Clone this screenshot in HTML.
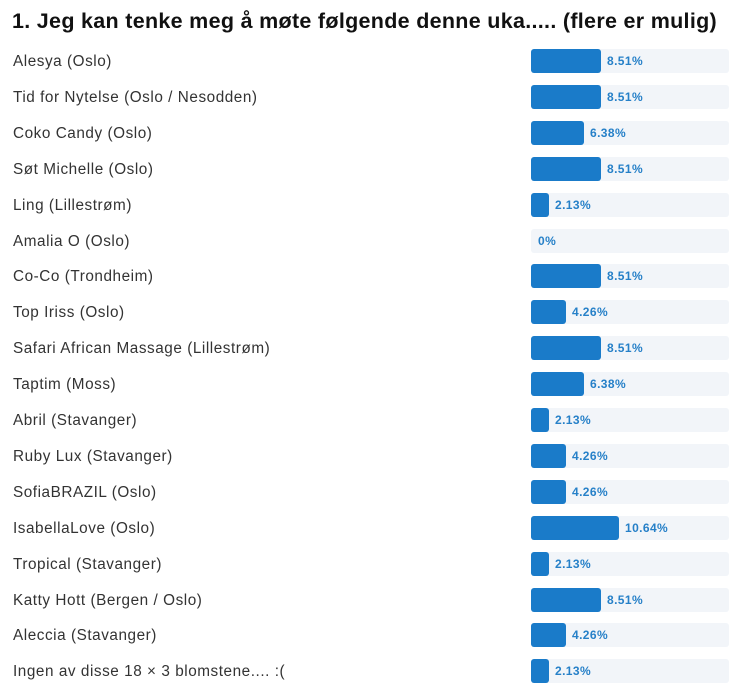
<!DOCTYPE html>
<html><head><meta charset="utf-8"><style>
body{margin:0;width:729px;height:699px;background:#fff;font-family:"Liberation Sans",sans-serif;overflow:hidden;position:relative}
h1{position:absolute;left:12px;top:9px;margin:0;font-size:21.5px;font-weight:bold;color:#111;white-space:nowrap;letter-spacing:0.3px}
.row{position:absolute;left:0;width:729px;height:24px}
.lab{position:absolute;left:13px;top:4px;font-size:15.3px;color:#333;white-space:nowrap;letter-spacing:0.55px}
.track{position:absolute;left:531px;top:0;width:198px;height:24px;background:#f2f5f9;border-radius:3px}
.bar{position:absolute;left:531px;top:0;height:24px;background:#1a7bc9;border-radius:3px}
.pct{position:absolute;top:5px;font-size:12px;font-weight:bold;color:#2680c8;letter-spacing:0.4px}
</style></head><body>
<h1>1. Jeg kan tenke meg å møte følgende denne uka..... (flere er mulig)</h1>
<div id="c"></div>
<script>
var d=[["Alesya (Oslo)",8.51],["Tid for Nytelse (Oslo / Nesodden)",8.51],["Coko Candy (Oslo)",6.38],["Søt Michelle (Oslo)",8.51],["Ling (Lillestrøm)",2.13],["Amalia O (Oslo)",0],["Co-Co (Trondheim)",8.51],["Top Iriss (Oslo)",4.26],["Safari African Massage (Lillestrøm)",8.51],["Taptim (Moss)",6.38],["Abril (Stavanger)",2.13],["Ruby Lux (Stavanger)",4.26],["SofiaBRAZIL (Oslo)",4.26],["IsabellaLove (Oslo)",10.64],["Tropical (Stavanger)",2.13],["Katty Hott (Bergen / Oslo)",8.51],["Aleccia (Stavanger)",4.26],["Ingen av disse 18 × 3 blomstene.... :(",2.13]];
var h="";
d.forEach(function(r,i){var y=49+i*35.9;var w=Math.round(r[1]*8.25);
h+='<div class="row" style="top:'+y+'px"><div class="lab">'+r[0]+'</div><div class="track"></div>'+(w?'<div class="bar" style="width:'+w+'px"></div>':'')+'<div class="pct" style="left:'+(531+w+(w?6:7))+'px">'+(r[1]?r[1].toFixed(2):'0')+'%</div></div>';});
document.getElementById("c").innerHTML=h;
</script>
</body></html>
